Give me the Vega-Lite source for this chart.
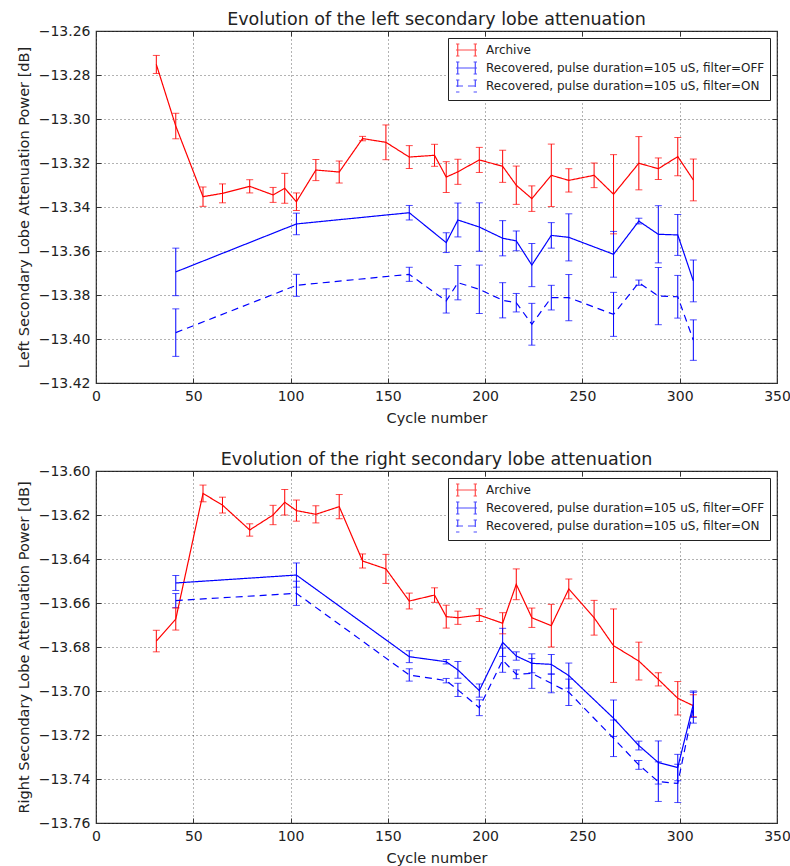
{
  "$schema": "https://vega.github.io/schema/vega-lite/v6.json",
  "background": "white",
  "padding": {"left": 15, "top": 9, "right": 5, "bottom": 0},
  "spacing": 23,
  "config": {
    "font": "DejaVu Sans",
    "view": {"stroke": "#333", "strokeWidth": 1.2},
    "axis": {"domain": false, "ticks": true, "tickSize": -5, "tickColor": "#333", "tickWidth": 1, "labelFontSize": 14, "labelColor": "#222", "titleFontSize": 14.5, "titleFontWeight": "normal", "titleColor": "#222", "labelPadding": 11, "labelOverlap": false, "labelFlush": false, "gridColor": "#000", "gridDash": [1, 3], "gridOpacity": 0.6},
    "axisY": {"titlePadding": 7},
    "axisX": {"titlePadding": 8},
    "title": {"fontSize": 17.5, "fontWeight": "normal", "color": "#222", "offset": -4},
    "legend": {"title": null, "orient": "top-right", "offset": 7, "fillColor": "white", "strokeColor": "#222", "padding": 5, "labelFontSize": 12, "labelColor": "#222", "labelLimit": 400, "labelOffset": 19, "rowPadding": 0, "symbolSize": 144, "symbolStrokeWidth": 1.2, "symbolFillColor": "transparent"}
  },
  "datasets": {
    "left": [
      {"series": "Archive", "cycle": 31, "value": -13.2752, "lo": -13.2793, "hi": -13.2711},
      {"series": "Archive", "cycle": 41, "value": -13.3032, "lo": -13.3090, "hi": -13.2974},
      {"series": "Archive", "cycle": 55, "value": -13.3353, "lo": -13.3397, "hi": -13.3309},
      {"series": "Archive", "cycle": 65, "value": -13.3338, "lo": -13.3381, "hi": -13.3295},
      {"series": "Archive", "cycle": 79, "value": -13.3306, "lo": -13.3336, "hi": -13.3276},
      {"series": "Archive", "cycle": 91, "value": -13.3345, "lo": -13.3379, "hi": -13.3311},
      {"series": "Archive", "cycle": 97, "value": -13.3315, "lo": -13.3383, "hi": -13.3247},
      {"series": "Archive", "cycle": 103, "value": -13.3376, "lo": -13.3416, "hi": -13.3336},
      {"series": "Archive", "cycle": 113, "value": -13.3232, "lo": -13.3280, "hi": -13.3184},
      {"series": "Archive", "cycle": 125, "value": -13.3241, "lo": -13.3291, "hi": -13.3191},
      {"series": "Archive", "cycle": 137, "value": -13.3089, "lo": -13.3099, "hi": -13.3079},
      {"series": "Archive", "cycle": 149, "value": -13.3106, "lo": -13.3185, "hi": -13.3027},
      {"series": "Archive", "cycle": 161, "value": -13.3173, "lo": -13.3225, "hi": -13.3121},
      {"series": "Archive", "cycle": 174, "value": -13.3165, "lo": -13.3215, "hi": -13.3115},
      {"series": "Archive", "cycle": 180, "value": -13.3264, "lo": -13.3334, "hi": -13.3194},
      {"series": "Archive", "cycle": 186, "value": -13.3240, "lo": -13.3297, "hi": -13.3183},
      {"series": "Archive", "cycle": 197, "value": -13.3186, "lo": -13.3243, "hi": -13.3129},
      {"series": "Archive", "cycle": 209, "value": -13.3215, "lo": -13.3288, "hi": -13.3142},
      {"series": "Archive", "cycle": 216, "value": -13.3301, "lo": -13.3388, "hi": -13.3214},
      {"series": "Archive", "cycle": 224, "value": -13.3362, "lo": -13.3420, "hi": -13.3304},
      {"series": "Archive", "cycle": 234, "value": -13.3256, "lo": -13.3398, "hi": -13.3114},
      {"series": "Archive", "cycle": 243, "value": -13.3279, "lo": -13.3332, "hi": -13.3226},
      {"series": "Archive", "cycle": 256, "value": -13.3256, "lo": -13.3312, "hi": -13.3200},
      {"series": "Archive", "cycle": 266, "value": -13.3342, "lo": -13.3522, "hi": -13.3162},
      {"series": "Archive", "cycle": 279, "value": -13.3201, "lo": -13.3322, "hi": -13.3080},
      {"series": "Archive", "cycle": 289, "value": -13.3226, "lo": -13.3275, "hi": -13.3177},
      {"series": "Archive", "cycle": 299, "value": -13.3171, "lo": -13.3258, "hi": -13.3084},
      {"series": "Archive", "cycle": 307, "value": -13.3277, "lo": -13.3372, "hi": -13.3182},
      {"series": "Recovered, pulse duration=105 uS, filter=OFF", "cycle": 41, "value": -13.3695, "lo": -13.3803, "hi": -13.3587},
      {"series": "Recovered, pulse duration=105 uS, filter=OFF", "cycle": 103, "value": -13.3477, "lo": -13.3526, "hi": -13.3428},
      {"series": "Recovered, pulse duration=105 uS, filter=OFF", "cycle": 161, "value": -13.3426, "lo": -13.3459, "hi": -13.3393},
      {"series": "Recovered, pulse duration=105 uS, filter=OFF", "cycle": 180, "value": -13.3562, "lo": -13.3607, "hi": -13.3517},
      {"series": "Recovered, pulse duration=105 uS, filter=OFF", "cycle": 186, "value": -13.3459, "lo": -13.3536, "hi": -13.3382},
      {"series": "Recovered, pulse duration=105 uS, filter=OFF", "cycle": 197, "value": -13.3491, "lo": -13.3601, "hi": -13.3381},
      {"series": "Recovered, pulse duration=105 uS, filter=OFF", "cycle": 209, "value": -13.3542, "lo": -13.3622, "hi": -13.3462},
      {"series": "Recovered, pulse duration=105 uS, filter=OFF", "cycle": 216, "value": -13.3554, "lo": -13.3599, "hi": -13.3509},
      {"series": "Recovered, pulse duration=105 uS, filter=OFF", "cycle": 224, "value": -13.3664, "lo": -13.3762, "hi": -13.3566},
      {"series": "Recovered, pulse duration=105 uS, filter=OFF", "cycle": 234, "value": -13.3529, "lo": -13.3587, "hi": -13.3471},
      {"series": "Recovered, pulse duration=105 uS, filter=OFF", "cycle": 243, "value": -13.3538, "lo": -13.3645, "hi": -13.3431},
      {"series": "Recovered, pulse duration=105 uS, filter=OFF", "cycle": 266, "value": -13.3615, "lo": -13.3719, "hi": -13.3511},
      {"series": "Recovered, pulse duration=105 uS, filter=OFF", "cycle": 279, "value": -13.3464, "lo": -13.3477, "hi": -13.3451},
      {"series": "Recovered, pulse duration=105 uS, filter=OFF", "cycle": 289, "value": -13.3524, "lo": -13.3654, "hi": -13.3394},
      {"series": "Recovered, pulse duration=105 uS, filter=OFF", "cycle": 299, "value": -13.3527, "lo": -13.3620, "hi": -13.3434},
      {"series": "Recovered, pulse duration=105 uS, filter=OFF", "cycle": 307, "value": -13.3736, "lo": -13.3831, "hi": -13.3641},
      {"series": "Recovered, pulse duration=105 uS, filter=ON", "cycle": 41, "value": -13.3971, "lo": -13.4079, "hi": -13.3863},
      {"series": "Recovered, pulse duration=105 uS, filter=ON", "cycle": 103, "value": -13.3756, "lo": -13.3806, "hi": -13.3706},
      {"series": "Recovered, pulse duration=105 uS, filter=ON", "cycle": 161, "value": -13.3706, "lo": -13.3738, "hi": -13.3674},
      {"series": "Recovered, pulse duration=105 uS, filter=ON", "cycle": 180, "value": -13.3827, "lo": -13.3882, "hi": -13.3772},
      {"series": "Recovered, pulse duration=105 uS, filter=ON", "cycle": 186, "value": -13.3744, "lo": -13.3822, "hi": -13.3666},
      {"series": "Recovered, pulse duration=105 uS, filter=ON", "cycle": 197, "value": -13.3774, "lo": -13.3884, "hi": -13.3664},
      {"series": "Recovered, pulse duration=105 uS, filter=ON", "cycle": 209, "value": -13.3824, "lo": -13.3904, "hi": -13.3744},
      {"series": "Recovered, pulse duration=105 uS, filter=ON", "cycle": 216, "value": -13.3835, "lo": -13.3877, "hi": -13.3793},
      {"series": "Recovered, pulse duration=105 uS, filter=ON", "cycle": 224, "value": -13.3933, "lo": -13.4028, "hi": -13.3838},
      {"series": "Recovered, pulse duration=105 uS, filter=ON", "cycle": 234, "value": -13.3812, "lo": -13.3868, "hi": -13.3756},
      {"series": "Recovered, pulse duration=105 uS, filter=ON", "cycle": 243, "value": -13.3812, "lo": -13.3917, "hi": -13.3707},
      {"series": "Recovered, pulse duration=105 uS, filter=ON", "cycle": 266, "value": -13.3888, "lo": -13.3988, "hi": -13.3788},
      {"series": "Recovered, pulse duration=105 uS, filter=ON", "cycle": 279, "value": -13.3744, "lo": -13.3756, "hi": -13.3732},
      {"series": "Recovered, pulse duration=105 uS, filter=ON", "cycle": 289, "value": -13.3805, "lo": -13.3935, "hi": -13.3675},
      {"series": "Recovered, pulse duration=105 uS, filter=ON", "cycle": 299, "value": -13.3808, "lo": -13.3905, "hi": -13.3711},
      {"series": "Recovered, pulse duration=105 uS, filter=ON", "cycle": 307, "value": -13.4005, "lo": -13.4097, "hi": -13.3913}
    ],
    "right": [
      {"series": "Archive", "cycle": 31, "value": -13.6773, "lo": -13.6822, "hi": -13.6724},
      {"series": "Archive", "cycle": 41, "value": -13.6673, "lo": -13.6723, "hi": -13.6623},
      {"series": "Archive", "cycle": 55, "value": -13.6102, "lo": -13.6140, "hi": -13.6064},
      {"series": "Archive", "cycle": 65, "value": -13.6155, "lo": -13.6191, "hi": -13.6119},
      {"series": "Archive", "cycle": 79, "value": -13.6268, "lo": -13.6296, "hi": -13.6240},
      {"series": "Archive", "cycle": 91, "value": -13.6200, "lo": -13.6244, "hi": -13.6156},
      {"series": "Archive", "cycle": 97, "value": -13.6142, "lo": -13.6200, "hi": -13.6084},
      {"series": "Archive", "cycle": 103, "value": -13.6180, "lo": -13.6228, "hi": -13.6132},
      {"series": "Archive", "cycle": 113, "value": -13.6197, "lo": -13.6236, "hi": -13.6158},
      {"series": "Archive", "cycle": 125, "value": -13.6162, "lo": -13.6217, "hi": -13.6107},
      {"series": "Archive", "cycle": 137, "value": -13.6409, "lo": -13.6441, "hi": -13.6377},
      {"series": "Archive", "cycle": 149, "value": -13.6445, "lo": -13.6511, "hi": -13.6379},
      {"series": "Archive", "cycle": 161, "value": -13.6591, "lo": -13.6627, "hi": -13.6555},
      {"series": "Archive", "cycle": 174, "value": -13.6564, "lo": -13.6597, "hi": -13.6531},
      {"series": "Archive", "cycle": 180, "value": -13.6662, "lo": -13.6714, "hi": -13.6610},
      {"series": "Archive", "cycle": 186, "value": -13.6667, "lo": -13.6697, "hi": -13.6637},
      {"series": "Archive", "cycle": 197, "value": -13.6655, "lo": -13.6684, "hi": -13.6626},
      {"series": "Archive", "cycle": 209, "value": -13.6692, "lo": -13.6740, "hi": -13.6644},
      {"series": "Archive", "cycle": 216, "value": -13.6515, "lo": -13.6585, "hi": -13.6445},
      {"series": "Archive", "cycle": 224, "value": -13.6667, "lo": -13.6711, "hi": -13.6623},
      {"series": "Archive", "cycle": 234, "value": -13.6703, "lo": -13.6800, "hi": -13.6606},
      {"series": "Archive", "cycle": 243, "value": -13.6536, "lo": -13.6581, "hi": -13.6491},
      {"series": "Archive", "cycle": 256, "value": -13.6667, "lo": -13.6746, "hi": -13.6588},
      {"series": "Archive", "cycle": 266, "value": -13.6794, "lo": -13.6961, "hi": -13.6627},
      {"series": "Archive", "cycle": 279, "value": -13.6864, "lo": -13.6950, "hi": -13.6778},
      {"series": "Archive", "cycle": 289, "value": -13.6947, "lo": -13.6977, "hi": -13.6917},
      {"series": "Archive", "cycle": 299, "value": -13.7033, "lo": -13.7109, "hi": -13.6957},
      {"series": "Archive", "cycle": 307, "value": -13.7067, "lo": -13.7117, "hi": -13.7017},
      {"series": "Recovered, pulse duration=105 uS, filter=OFF", "cycle": 41, "value": -13.6509, "lo": -13.6543, "hi": -13.6475},
      {"series": "Recovered, pulse duration=105 uS, filter=OFF", "cycle": 103, "value": -13.6473, "lo": -13.6528, "hi": -13.6418},
      {"series": "Recovered, pulse duration=105 uS, filter=OFF", "cycle": 161, "value": -13.6844, "lo": -13.6871, "hi": -13.6817},
      {"series": "Recovered, pulse duration=105 uS, filter=OFF", "cycle": 180, "value": -13.6867, "lo": -13.6877, "hi": -13.6857},
      {"series": "Recovered, pulse duration=105 uS, filter=OFF", "cycle": 186, "value": -13.6904, "lo": -13.6942, "hi": -13.6866},
      {"series": "Recovered, pulse duration=105 uS, filter=OFF", "cycle": 197, "value": -13.6998, "lo": -13.7028, "hi": -13.6968},
      {"series": "Recovered, pulse duration=105 uS, filter=OFF", "cycle": 209, "value": -13.6779, "lo": -13.6843, "hi": -13.6715},
      {"series": "Recovered, pulse duration=105 uS, filter=OFF", "cycle": 216, "value": -13.6841, "lo": -13.6860, "hi": -13.6822},
      {"series": "Recovered, pulse duration=105 uS, filter=OFF", "cycle": 224, "value": -13.6874, "lo": -13.6917, "hi": -13.6831},
      {"series": "Recovered, pulse duration=105 uS, filter=OFF", "cycle": 234, "value": -13.6879, "lo": -13.6924, "hi": -13.6834},
      {"series": "Recovered, pulse duration=105 uS, filter=OFF", "cycle": 243, "value": -13.6930, "lo": -13.6987, "hi": -13.6873},
      {"series": "Recovered, pulse duration=105 uS, filter=OFF", "cycle": 266, "value": -13.7124, "lo": -13.7207, "hi": -13.7041},
      {"series": "Recovered, pulse duration=105 uS, filter=OFF", "cycle": 279, "value": -13.7248, "lo": -13.7268, "hi": -13.7228},
      {"series": "Recovered, pulse duration=105 uS, filter=OFF", "cycle": 289, "value": -13.7325, "lo": -13.7423, "hi": -13.7227},
      {"series": "Recovered, pulse duration=105 uS, filter=OFF", "cycle": 299, "value": -13.7348, "lo": -13.7408, "hi": -13.7288},
      {"series": "Recovered, pulse duration=105 uS, filter=OFF", "cycle": 307, "value": -13.7060, "lo": -13.7120, "hi": -13.7000},
      {"series": "Recovered, pulse duration=105 uS, filter=ON", "cycle": 41, "value": -13.6589, "lo": -13.6621, "hi": -13.6557},
      {"series": "Recovered, pulse duration=105 uS, filter=ON", "cycle": 103, "value": -13.6556, "lo": -13.6611, "hi": -13.6501},
      {"series": "Recovered, pulse duration=105 uS, filter=ON", "cycle": 161, "value": -13.6927, "lo": -13.6955, "hi": -13.6899},
      {"series": "Recovered, pulse duration=105 uS, filter=ON", "cycle": 180, "value": -13.6953, "lo": -13.6963, "hi": -13.6943},
      {"series": "Recovered, pulse duration=105 uS, filter=ON", "cycle": 186, "value": -13.6995, "lo": -13.7025, "hi": -13.6965},
      {"series": "Recovered, pulse duration=105 uS, filter=ON", "cycle": 197, "value": -13.7076, "lo": -13.7112, "hi": -13.7040},
      {"series": "Recovered, pulse duration=105 uS, filter=ON", "cycle": 209, "value": -13.6860, "lo": -13.6915, "hi": -13.6805},
      {"series": "Recovered, pulse duration=105 uS, filter=ON", "cycle": 216, "value": -13.6924, "lo": -13.6944, "hi": -13.6904},
      {"series": "Recovered, pulse duration=105 uS, filter=ON", "cycle": 224, "value": -13.6920, "lo": -13.6988, "hi": -13.6852},
      {"series": "Recovered, pulse duration=105 uS, filter=ON", "cycle": 234, "value": -13.6965, "lo": -13.7008, "hi": -13.6922},
      {"series": "Recovered, pulse duration=105 uS, filter=ON", "cycle": 243, "value": -13.7006, "lo": -13.7066, "hi": -13.6946},
      {"series": "Recovered, pulse duration=105 uS, filter=ON", "cycle": 266, "value": -13.7215, "lo": -13.7298, "hi": -13.7132},
      {"series": "Recovered, pulse duration=105 uS, filter=ON", "cycle": 279, "value": -13.7336, "lo": -13.7356, "hi": -13.7316},
      {"series": "Recovered, pulse duration=105 uS, filter=ON", "cycle": 289, "value": -13.7412, "lo": -13.7502, "hi": -13.7322},
      {"series": "Recovered, pulse duration=105 uS, filter=ON", "cycle": 299, "value": -13.7420, "lo": -13.7507, "hi": -13.7333},
      {"series": "Recovered, pulse duration=105 uS, filter=ON", "cycle": 307, "value": -13.7076, "lo": -13.7146, "hi": -13.7006}
    ]
  },
  "resolve": {"scale": {"color": "independent", "strokeDash": "independent"}, "legend": {"color": "independent", "strokeDash": "independent"}},
  "vconcat": [
    {
      "width": 681,
      "height": 352,
      "title": "Evolution of the left secondary lobe attenuation",
      "data": {"name": "left"},
      "resolve": {"scale": {"x": "independent", "y": "independent"}},
      "layer": [
        {
          "mark": {"type": "rule", "strokeWidth": 1},
          "encoding": {
            "x": {"field": "cycle", "type": "quantitative", "title": "Cycle number", "scale": {"domain": [0, 350], "nice": false, "zero": false}, "axis": {"orient": "bottom", "grid": true, "values": [0, 50, 100, 150, 200, 250, 300, 350], "format": "d"}},
            "y": {"field": "lo", "type": "quantitative", "title": "Left Secondary Lobe Attenuation Power [dB]", "scale": {"domain": [-13.42, -13.26], "nice": false, "zero": false}, "axis": {"orient": "left", "grid": true, "values": [-13.42, -13.40, -13.38, -13.36, -13.34, -13.32, -13.30, -13.28, -13.26], "format": ".2f"}},
            "y2": {"field": "hi"},
            "color": {"field": "series", "type": "nominal", "scale": {"domain": ["Archive", "Recovered, pulse duration=105 uS, filter=OFF", "Recovered, pulse duration=105 uS, filter=ON"], "range": ["#ff0000", "#0000ff", "#0000ff"]}}
          }
        },
        {
          "mark": {"type": "tick", "orient": "horizontal", "size": 7, "thickness": 1},
          "encoding": {
            "x": {"field": "cycle", "type": "quantitative", "scale": {"domain": [0, 350], "nice": false, "zero": false}, "axis": null},
            "y": {"field": "lo", "type": "quantitative", "scale": {"domain": [-13.42, -13.26], "nice": false, "zero": false}, "axis": null},
            "color": {"field": "series", "type": "nominal"}
          }
        },
        {
          "mark": {"type": "tick", "orient": "horizontal", "size": 7, "thickness": 1},
          "encoding": {
            "x": {"field": "cycle", "type": "quantitative", "scale": {"domain": [0, 350], "nice": false, "zero": false}, "axis": null},
            "y": {"field": "hi", "type": "quantitative", "scale": {"domain": [-13.42, -13.26], "nice": false, "zero": false}, "axis": null},
            "color": {"field": "series", "type": "nominal"}
          }
        },
        {
          "mark": {"type": "line", "strokeWidth": 1.2},
          "encoding": {
            "x": {"field": "cycle", "type": "quantitative", "scale": {"domain": [0, 350], "nice": false, "zero": false}, "axis": {"orient": "top", "grid": false, "labels": false, "title": null, "values": [0, 50, 100, 150, 200, 250, 300, 350]}},
            "y": {"field": "value", "type": "quantitative", "scale": {"domain": [-13.42, -13.26], "nice": false, "zero": false}, "axis": {"orient": "right", "grid": false, "labels": false, "title": null, "values": [-13.42, -13.40, -13.38, -13.36, -13.34, -13.32, -13.30, -13.28, -13.26]}},
            "color": {"field": "series", "type": "nominal", "legend": {"symbolType": "M-0.67,0H2.83M-0.38,-1V1M2.55,-1V1M-0.66,-1H-0.1M-0.66,1H-0.1M2.27,-1H2.83M2.27,1H2.83"}},
            "strokeDash": {"field": "series", "type": "nominal", "scale": {"domain": ["Archive", "Recovered, pulse duration=105 uS, filter=OFF", "Recovered, pulse duration=105 uS, filter=ON"], "range": [[1, 0], [1, 0], [7, 5]]}, "legend": {"symbolType": "M-0.67,0H2.83M-0.38,-1V1M2.55,-1V1M-0.66,-1H-0.1M-0.66,1H-0.1M2.27,-1H2.83M2.27,1H2.83"}}
          }
        }
      ]
    },
    {
      "width": 681,
      "height": 352,
      "title": "Evolution of the right secondary lobe attenuation",
      "data": {"name": "right"},
      "resolve": {"scale": {"x": "independent", "y": "independent"}},
      "layer": [
        {
          "mark": {"type": "rule", "strokeWidth": 1},
          "encoding": {
            "x": {"field": "cycle", "type": "quantitative", "title": "Cycle number", "scale": {"domain": [0, 350], "nice": false, "zero": false}, "axis": {"orient": "bottom", "grid": true, "values": [0, 50, 100, 150, 200, 250, 300, 350], "format": "d"}},
            "y": {"field": "lo", "type": "quantitative", "title": "Right Secondary Lobe Attenuation Power [dB]", "scale": {"domain": [-13.76, -13.60], "nice": false, "zero": false}, "axis": {"orient": "left", "grid": true, "values": [-13.76, -13.74, -13.72, -13.70, -13.68, -13.66, -13.64, -13.62, -13.60], "format": ".2f"}},
            "y2": {"field": "hi"},
            "color": {"field": "series", "type": "nominal", "scale": {"domain": ["Archive", "Recovered, pulse duration=105 uS, filter=OFF", "Recovered, pulse duration=105 uS, filter=ON"], "range": ["#ff0000", "#0000ff", "#0000ff"]}}
          }
        },
        {
          "mark": {"type": "tick", "orient": "horizontal", "size": 7, "thickness": 1},
          "encoding": {
            "x": {"field": "cycle", "type": "quantitative", "scale": {"domain": [0, 350], "nice": false, "zero": false}, "axis": null},
            "y": {"field": "lo", "type": "quantitative", "scale": {"domain": [-13.76, -13.60], "nice": false, "zero": false}, "axis": null},
            "color": {"field": "series", "type": "nominal"}
          }
        },
        {
          "mark": {"type": "tick", "orient": "horizontal", "size": 7, "thickness": 1},
          "encoding": {
            "x": {"field": "cycle", "type": "quantitative", "scale": {"domain": [0, 350], "nice": false, "zero": false}, "axis": null},
            "y": {"field": "hi", "type": "quantitative", "scale": {"domain": [-13.76, -13.60], "nice": false, "zero": false}, "axis": null},
            "color": {"field": "series", "type": "nominal"}
          }
        },
        {
          "mark": {"type": "line", "strokeWidth": 1.2},
          "encoding": {
            "x": {"field": "cycle", "type": "quantitative", "scale": {"domain": [0, 350], "nice": false, "zero": false}, "axis": {"orient": "top", "grid": false, "labels": false, "title": null, "values": [0, 50, 100, 150, 200, 250, 300, 350]}},
            "y": {"field": "value", "type": "quantitative", "scale": {"domain": [-13.76, -13.60], "nice": false, "zero": false}, "axis": {"orient": "right", "grid": false, "labels": false, "title": null, "values": [-13.76, -13.74, -13.72, -13.70, -13.68, -13.66, -13.64, -13.62, -13.60]}},
            "color": {"field": "series", "type": "nominal", "legend": {"symbolType": "M-0.67,0H2.83M-0.38,-1V1M2.55,-1V1M-0.66,-1H-0.1M-0.66,1H-0.1M2.27,-1H2.83M2.27,1H2.83"}},
            "strokeDash": {"field": "series", "type": "nominal", "scale": {"domain": ["Archive", "Recovered, pulse duration=105 uS, filter=OFF", "Recovered, pulse duration=105 uS, filter=ON"], "range": [[1, 0], [1, 0], [7, 5]]}, "legend": {"symbolType": "M-0.67,0H2.83M-0.38,-1V1M2.55,-1V1M-0.66,-1H-0.1M-0.66,1H-0.1M2.27,-1H2.83M2.27,1H2.83"}}
          }
        }
      ]
    }
  ]
}
